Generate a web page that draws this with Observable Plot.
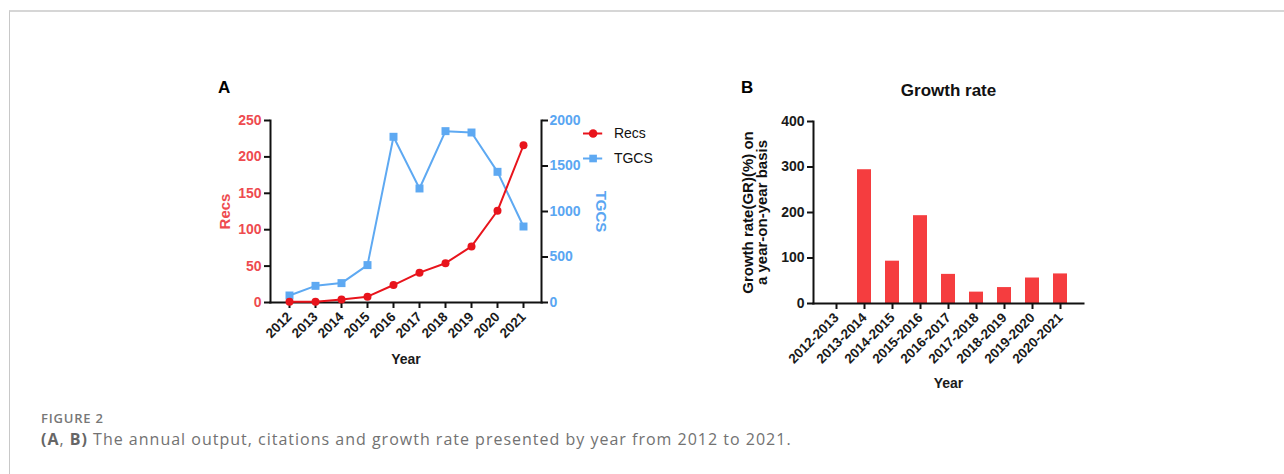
<!DOCTYPE html>
<html>
<head>
<meta charset="utf-8">
<script src="https://cdn.jsdelivr.net/npm/d3@7"></script>
<script src="https://cdn.jsdelivr.net/npm/@observablehq/plot@0.6"></script>
<style>
  body { margin: 0; background: #fff; }
  #fig { position: relative; width: 1284px; height: 474px; overflow: hidden; background: #fff;
         font-family: "Liberation Sans", Arial, sans-serif; }
  #border { position: absolute; left: 9px; top: 10px; right: -2px; bottom: -2px;
            border-top: 2px solid #d6d6d6; border-left: 1px solid #c8c8c8; }
  .abs { position: absolute; }
  .plabel { position: absolute; font-weight: bold; font-size: 17px; line-height: 1; color: #000; }
  #cap1 { position: absolute; left: 41px; top: 412px; line-height: 1; font-family: "Open Sans", sans-serif;
          font-size: 13px; font-weight: 600; color: #777; letter-spacing: 0.8px; }
  #cap2 { position: absolute; left: 41px; top: 431px; line-height: 1; font-family: "Open Sans", sans-serif;
          font-size: 16px; color: #727272; white-space: nowrap; letter-spacing: 1px; }
  #cap2 b { font-weight: 700; color: #666; }
</style>
</head>
<body>
<div id="fig">
  <div id="border"></div>
  <div class="plabel" style="left:218px; top:79px;">A</div>
  <div class="plabel" style="left:741px; top:79px;">B</div>
  <div id="plotA2" class="abs" style="left:200px; top:100px;"></div>
  <div id="plotA1" class="abs" style="left:200px; top:100px;"></div>
  <div id="legendA" class="abs" style="left:583px; top:120px;"></div>
  <div id="plotB" class="abs" style="left:730px; top:75px;"></div>
  <div id="cap1">FIGURE 2</div>
  <div id="cap2"><b>(A</b>, <b>B)</b> The annual output, citations and growth rate presented by year from 2012 to 2021.</div>
</div>
<script>
// ---- Data ----
const years = [2012, 2013, 2014, 2015, 2016, 2017, 2018, 2019, 2020, 2021];
const recs  = [1, 1, 4, 8, 24, 41, 54, 77, 126, 216];
const tgcs  = [77, 183, 213, 411, 1821, 1253, 1883, 1868, 1436, 835];

const periods = ["2012-2013", "2013-2014", "2014-2015", "2015-2016", "2016-2017",
                 "2017-2018", "2018-2019", "2019-2020", "2020-2021"];
const growth  = [0, 294, 93, 193, 64, 25, 35, 56, 65];

const recsTicks   = [0, 50, 100, 150, 200, 250];
const tgcsTicks   = [0, 500, 1000, 1500, 2000];
const growthTicks = [0, 100, 200, 300, 400];

const seriesNames = ["Recs", "TGCS"];
const seriesColors = ["#e8141c", "#5ea9f2"];
const seriesSymbols = ["circle", "square"];

// ---- Tables ----
const dataA = years.map((year, i) => ({year, recs: recs[i], tgcs: tgcs[i]}));
const dataB = periods.map((period, i) => ({period, growth: growth[i]}));

const FONT = "'Liberation Sans', Arial, sans-serif";
const AXIS = "#111";
const RED_TXT = "#ee4b50";
const BLUE_TXT = "#5aa6f2";
const BAR = "#f53d3f";
const fmt = d => String(d);

const baseA = {
  width: 470, height: 290,
  marginLeft: 70, marginRight: 129, marginTop: 20, marginBottom: 88,
  style: {fontFamily: FONT, fontSize: "14px", fontWeight: "bold", background: "transparent", overflow: "visible"}
};
const xA = {type: "point", domain: years, padding: 0.67};
const label = (extra) => ({text: d => d, textAnchor: "middle", lineAnchor: "middle", ...extra});

// Panel A - left axis (Recs), x axis
const plotA1 = Plot.plot({
  ...baseA,
  x: xA,
  y: {domain: [0, 250]},
  marks: [
    Plot.axisY(recsTicks, {anchor: "left", tickSize: 6, tickPadding: 3, stroke: AXIS, strokeWidth: 2,
                           fill: RED_TXT, label: null, tickFormat: fmt, fontSize: 14}),
    Plot.axisX(years, {anchor: "bottom", tickSize: 6, tickPadding: 6, tickRotate: -45, stroke: AXIS,
                       strokeWidth: 2, fill: "#1a1a1a", label: null, tickFormat: fmt, fontSize: 13.5}),
    Plot.frame({anchor: "left", stroke: AXIS, strokeWidth: 2}),
    Plot.frame({anchor: "bottom", stroke: AXIS, strokeWidth: 2}),
    Plot.text(["Recs"], label({frameAnchor: "left", dx: -45, rotate: -90, fill: RED_TXT, fontSize: 15})),
    Plot.text(["Year"], label({frameAnchor: "bottom", dy: 57, fill: "#1a1a1a", fontSize: 14})),
    Plot.line(dataA, {x: "year", y: "recs", stroke: seriesColors[0], strokeWidth: 2}),
    Plot.dot(dataA, {x: "year", y: "recs", r: 4, fill: seriesColors[0], symbol: "circle"})
  ]
});
document.getElementById("plotA1").append(plotA1);

// Panel A - right axis (TGCS)
const plotA2 = Plot.plot({
  ...baseA,
  x: {...xA, axis: null},
  y: {domain: [0, 2000]},
  marks: [
    Plot.axisY(tgcsTicks, {anchor: "right", tickSize: 6, tickPadding: 2, stroke: AXIS, strokeWidth: 2,
                           fill: BLUE_TXT, label: null, tickFormat: fmt, fontSize: 14}),
    Plot.frame({anchor: "right", stroke: AXIS, strokeWidth: 2}),
    Plot.text(["TGCS"], label({frameAnchor: "right", dx: 59, rotate: 90, fill: BLUE_TXT, fontSize: 15})),
    Plot.line(dataA, {x: "year", y: "tgcs", stroke: seriesColors[1], strokeWidth: 2}),
    Plot.dot(dataA, {x: "year", y: "tgcs", r: 4.5, fill: seriesColors[1], symbol: "square"})
  ]
});
document.getElementById("plotA2").append(plotA2);

// Legend for panel A
const legend = Plot.plot({
  width: 80, height: 50, margin: 0,
  style: {fontFamily: FONT, fontSize: "14px", background: "transparent", overflow: "visible"},
  x: {domain: [0, 1], axis: null},
  y: {type: "point", domain: seriesNames, padding: 0.5, axis: null},
  color: {domain: seriesNames, range: seriesColors},
  symbol: {domain: seriesNames, range: seriesSymbols},
  marks: [
    Plot.ruleY(seriesNames, {y: d => d, x1: 0, x2: 0.24, stroke: d => d, strokeWidth: 2}),
    Plot.dot(seriesNames, {x: 0.12, y: d => d, symbol: d => d, fill: d => d, r: 4.3}),
    Plot.text(seriesNames, {x: 0.38, y: d => d, text: d => d, textAnchor: "start", fill: "#111"})
  ]
});
document.getElementById("legendA").append(legend);

// Panel B - growth rate bars
const plotB = Plot.plot({
  width: 370, height: 330,
  marginLeft: 83, marginRight: 17, marginTop: 46, marginBottom: 102,
  style: {fontFamily: FONT, fontSize: "14px", fontWeight: "bold", background: "transparent", overflow: "visible"},
  x: {type: "band", domain: periods, paddingInner: 0.5, paddingOuter: 0.434, axis: null},
  y: {domain: [0, 400], axis: null},
  marks: [
    Plot.barY(dataB, {x: "period", y: "growth", fill: BAR}),
    Plot.axisY(growthTicks, {anchor: "left", tickSize: 6, tickPadding: 3, stroke: AXIS, strokeWidth: 2,
                             fill: "#1a1a1a", label: null, tickFormat: fmt, fontSize: 14}),
    Plot.axisX(periods, {anchor: "bottom", tickSize: 6, tickPadding: 6, tickRotate: -45, stroke: AXIS,
                         strokeWidth: 2, fill: "#1a1a1a", label: null, fontSize: 13.5}),
    Plot.frame({anchor: "left", stroke: AXIS, strokeWidth: 2}),
    Plot.frame({anchor: "bottom", stroke: AXIS, strokeWidth: 2}),
    Plot.text(["Growth rate"], label({frameAnchor: "top", dy: -31, fill: "#111", fontSize: 17})),
    Plot.text(["Growth rate(GR)(%) on\na year-on-year basis"], label({frameAnchor: "left", dx: -58, rotate: -90,
                         fill: "#111", fontSize: 15, lineHeight: 0.95})),
    Plot.text(["Year"], label({frameAnchor: "bottom", dy: 80, fill: "#1a1a1a", fontSize: 14}))
  ]
});
document.getElementById("plotB").append(plotB);
</script>
</body>
</html>
